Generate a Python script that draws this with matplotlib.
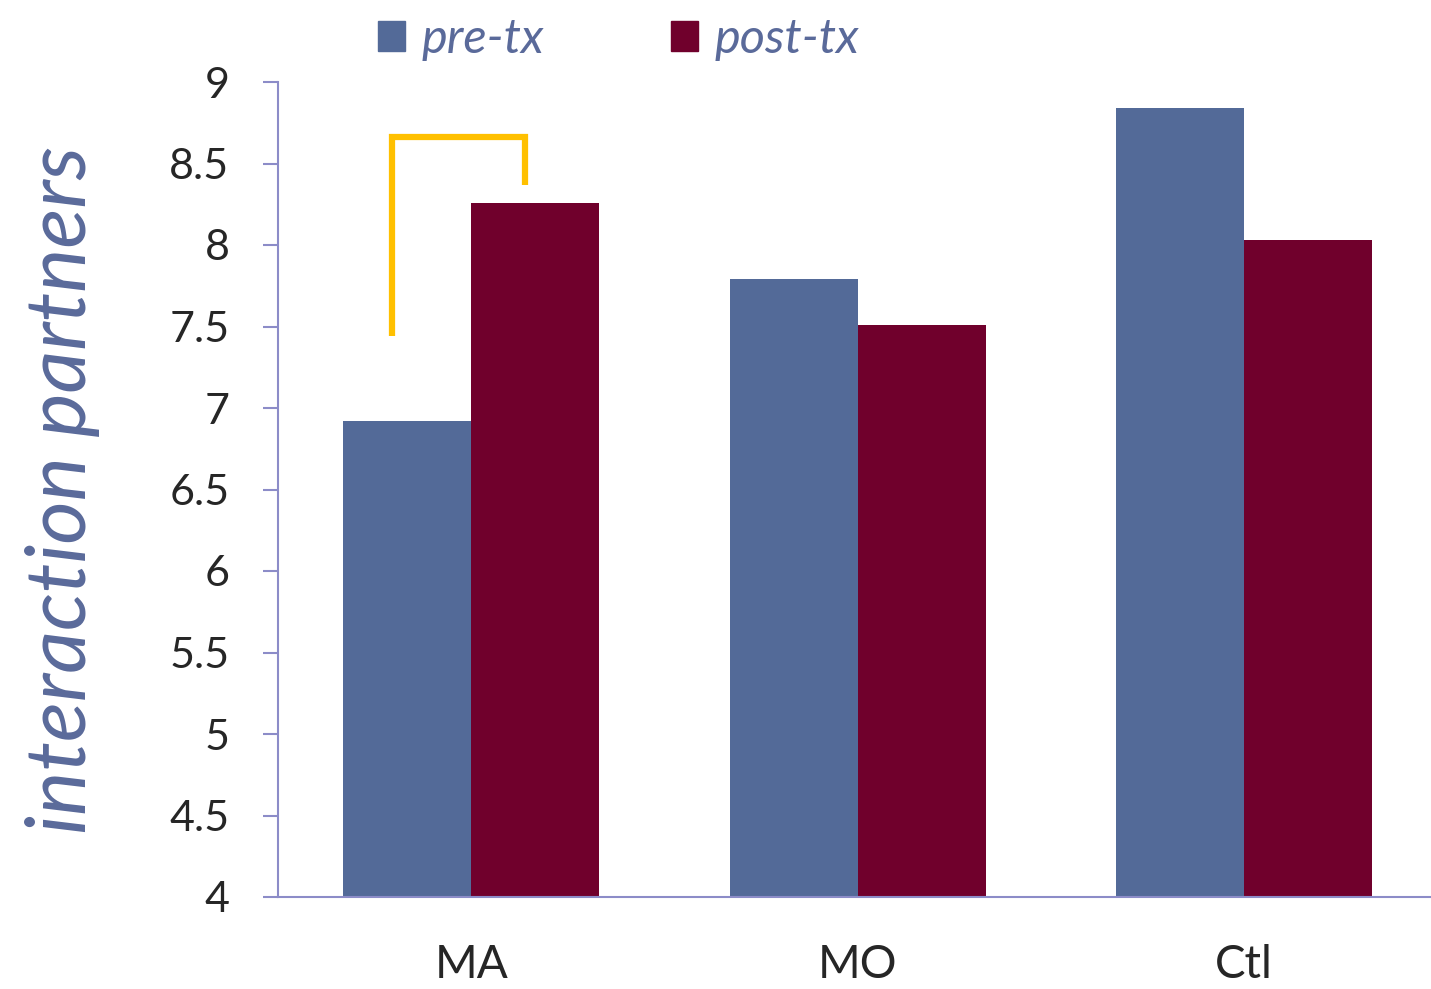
import numpy as np
import matplotlib
matplotlib.use("Agg")
import matplotlib.pyplot as plt
from matplotlib.patches import Patch

# data
groups = ["MA", "MO", "Ctl"]
pre_tx = [6.92, 7.79, 8.84]
post_tx = [8.26, 7.51, 8.03]
series_names = ["pre-tx", "post-tx"]

# significance bracket between MA pre and MA post (x in category units, y in data)
bracket_x = [-0.204, -0.204, 0.14, 0.14]
bracket_y = [7.44, 8.66, 8.66, 8.37]

PRE_COLOR = "#536A98"
POST_COLOR = "#70002C"
AXIS_COLOR = "#8C8CC8"
LABEL_COLOR = "#5A6A9A"
TEXT_COLOR = "#262626"
BRACKET_COLOR = "#FFC000"

plt.rcParams["font.family"] = ["Lato", "DejaVu Sans"]

fig = plt.figure(figsize=(14.31, 9.89), dpi=100)
ax = fig.add_axes([278 / 1431, 92 / 989, 1159.5 / 1431, 815 / 989])

x = np.arange(len(groups))
w = 0.331
ax.bar(x - w / 2, np.array(pre_tx) - 4, w, bottom=4, color=PRE_COLOR, label=series_names[0])
ax.bar(x + w / 2, np.array(post_tx) - 4, w, bottom=4, color=POST_COLOR, label=series_names[1])

ax.plot(bracket_x, bracket_y, color=BRACKET_COLOR, linewidth=4.5,
        solid_joinstyle="miter", solid_capstyle="butt")

ax.set_xlim(-0.5, 2.5)
ax.set_ylim(4, 9)
ax.set_yticks(np.arange(4, 9.01, 0.5))
ax.set_yticklabels([f"{v:g}" for v in np.arange(4, 9.01, 0.5)])
ax.set_xticks(x)
ax.set_xticklabels(groups)

ax.tick_params(axis="y", length=11, width=1.5, color=AXIS_COLOR, labelsize=31,
               labelcolor=TEXT_COLOR, pad=24)
ax.tick_params(axis="x", length=0, labelsize=33, labelcolor=TEXT_COLOR, pad=34)
for side in ("top", "right"):
    ax.spines[side].set_visible(False)
for side in ("left", "bottom"):
    ax.spines[side].set_color(AXIS_COLOR)
    ax.spines[side].set_linewidth(1.5)

ax.set_ylabel("interaction partners", fontsize=60, style="italic",
              color=LABEL_COLOR, labelpad=50)

handles = [Patch(color=PRE_COLOR), Patch(color=POST_COLOR)]
fig.legend(handles, series_names, loc="upper left", ncol=2,
           bbox_to_anchor=(349 / 1431, 1.012), frameon=False,
           prop={"size": 35, "style": "italic"},
           labelcolor=LABEL_COLOR, handlelength=0.55, handleheight=0.55,
           handletextpad=0.35, columnspacing=2.6, borderaxespad=0.2)

plt.savefig("out.png", dpi=100)
